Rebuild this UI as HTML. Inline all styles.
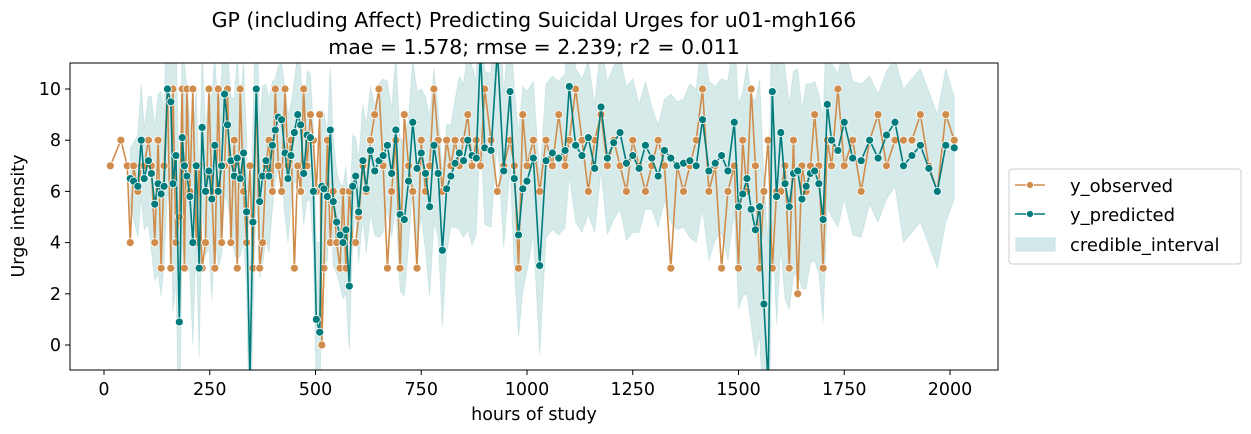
<!DOCTYPE html>
<html><head><meta charset="utf-8"><style>
html,body{margin:0;padding:0;background:#fff;width:1251px;height:434px;overflow:hidden;}
svg{display:block;font-family:"DejaVu Sans","Liberation Sans",sans-serif;}
</style></head><body>
<svg id="chart" width="1251" height="434" viewBox="0 0 1251 434">
<text x="534" y="27" font-size="20.5" text-anchor="middle" fill="#000">GP (including Affect) Predicting Suicidal Urges for u01-mgh166</text>
<text x="534" y="54" font-size="20.5" text-anchor="middle" fill="#000">mae = 1.578; rmse = 2.239; r2 = 0.011</text>
<defs><clipPath id="pc"><rect x="70" y="63" width="928" height="307"/></clipPath></defs>
<g id="plot" clip-path="url(#pc)"></g>
<rect x="70" y="63" width="928" height="307" fill="none" stroke="#000" stroke-width="1"/>
<g id="xaxis"></g>
<g id="yaxis"></g>
<text x="534" y="420" font-size="17.5" text-anchor="middle">hours of study</text>
<text x="24" y="216" font-size="17.5" text-anchor="middle" transform="rotate(-90 24 216)">Urge intensity</text>
<g>
<rect x="1009" y="169" width="232" height="95" rx="3" fill="#fff" stroke="#ccc"/>
<g>
<line x1="1015" y1="185" x2="1045" y2="185" stroke="#d08c4b" stroke-width="1.6"/><circle cx="1030" cy="185" r="3.5" fill="#d08c4b" stroke="#fff" stroke-width="0.8"/>
<text x="1070" y="192" font-size="18">y_observed</text></g>
<g>
<line x1="1015" y1="214" x2="1045" y2="214" stroke="#007b7b" stroke-width="1.6"/><circle cx="1030" cy="214" r="3.5" fill="#007b7b" stroke="#fff" stroke-width="0.8"/>
<text x="1070" y="221" font-size="18">y_predicted</text></g>
<g>
<rect x="1016" y="238" width="39" height="13" fill="#d3e9e9" stroke="#c6e2e2"/>
<text x="1070" y="251" font-size="18">credible_interval</text></g>
</g>
</svg>
<script>
const hours=[15,40,55,62,70,80,88,95,105,112,
120,128,135,142,150,158,163,170,178,185,
190,196,203,210,218,225,232,240,248,255,
262,270,278,285,292,300,308,315,322,330,
337,345,352,360,368,375,383,390,398,405,
412,420,428,435,442,450,458,465,472,480,
488,495,502,510,515,520,528,535,542,550,
558,565,572,580,588,595,602,612,620,630,
640,650,660,670,680,690,700,710,720,730,
740,750,760,770,780,790,800,810,820,830,
840,850,860,870,880,890,900,915,930,945,
960,970,980,990,1000,1015,1030,1045,1060,1075,
1090,1100,1115,1130,1145,1160,1175,1190,1205,1220,
1235,1250,1265,1280,1295,1310,1325,1340,1355,1370,
1385,1400,1415,1430,1445,1460,1475,1490,1500,1510,
1520,1530,1540,1550,1560,1570,1580,1590,1600,1610,
1620,1630,1640,1650,1660,1670,1680,1690,1700,1710,
1720,1735,1750,1770,1790,1810,1830,1850,1870,1890,
1910,1930,1950,1970,1990,2010];
const observed=[7,8,7,4,7,6,7,7,8,7,
4,8,3,7,10,3,10,4,5,10,
3,10,6,10,4,7,3,4,10,6,
3,10,4,7,10,4,8,3,10,6,
4,7,3,10,3,4,7,8,6,10,
7,6,10,7,8,3,7,6,10,7,
9,8,6,9,0,3,8,4,6,4,
3,6,3,6,4,4,5,7,6,8,
9,10,7,3,6,8,3,9,7,6,
3,8,6,7,10,8,6,8,7,8,
7,8,9,7,8,7,10,8,6,7,
8,7,3,9,7,8,6,8,7,9,
7,8,10,8,6,8,9,7,8,7,
6,8,7,6,7,8,7,3,7,6,
7,8,10,6,7,3,6,7,3,8,
6,10,7,3,6,8,3,6,6,7,
3,8,2,7,6,7,9,7,3,8,
7,10,7,8,6,8,9,7,8,8,
8,9,7,6,9,8];
const predicted=[null,null,null,6.5,6.4,6.2,8,6.5,7.2,6.7,
5.5,6.3,5.9,6.2,10,9.5,6.3,7.4,0.9,8.1,
7,6.6,5.8,4,7,3,8.5,6,6.8,5.7,
7.8,6,7,9.8,8.6,7.2,6.6,7.3,6.5,7.5,
5.2,-1.3,4.8,10,5.6,6.6,7.2,6.6,7.8,8.4,
8.9,8.8,7.5,6.5,7.4,8.3,9,8.6,6.7,8.2,
8.1,6,1,0.5,6.2,6.1,5.8,8.4,5.6,4.8,
4.3,4,4.5,2.3,6.2,6.6,5.2,7.2,6.1,7.6,
6.8,7.2,7.4,7.8,6.7,8.4,5.1,4.9,6.4,8.7,
6.9,7.5,6.7,5.4,7.8,6.7,3.7,6.1,6.6,7.1,
7.5,7.2,8,7.4,7.3,11.5,7.7,7.6,11.5,6.8,
9.9,6.5,4.3,6.1,6.4,7.3,3.1,7.2,7.5,7.3,
7.6,10.1,7.8,7.4,8.1,6.9,9.3,7.3,7.9,8.3,
7.1,7.4,6.9,7.8,7.3,6.6,7.6,7.3,7.0,7.1,
7.2,7.0,8.8,6.8,7.1,7.4,6.8,8.7,5.4,5.9,
6.5,5.3,4.5,5.4,1.6,-1.5,9.9,5.8,8.3,6.3,
5.4,6.7,6.8,5.7,6.2,6.7,6.8,6.3,4.9,9.4,
8.0,7.6,8.7,7.3,7.2,8.0,7.3,8.2,8.7,7.0,
7.4,7.8,6.9,6.0,7.8,7.7];
const ciHalf=[0,0,0,1.2,1.5,2,2.2,2,2.5,3,
3,3.5,4,3,4,4.5,5,5,5,4,
4,3.5,3,4,3,3.5,3,2.5,3,4,
3.5,3,3.5,4,3,2.5,3,4,3,3.5,
3,3.5,4,4,3,3.5,3,3,2.5,2,
2,2.2,2.5,2.5,2,2,2.5,2.2,2,2.5,
2.5,2.5,3,3.5,3,3,2.5,2.5,2.5,2,
2,2.2,2.5,2.5,2,1.5,2,2.2,2.5,2.5,
2.5,3,3,2.5,2.5,3,3,3,2.5,2.5,
3,2.5,3,3.5,3,2.5,3,2.5,2,2.5,
3,3,3.5,3.5,3,3,3,3,3.5,3,
3,3.5,4,4,3.5,3,3.5,3,3,3,
3,3.5,3,3,3,2.5,2.5,3,3,3,
3,3,2.5,2.5,2,2,2,2.5,2.5,2.5,
3,3,3.5,3.5,3,3,3.5,3.5,4,4,
4.5,4.5,5,5,5,5.5,5,5,4.5,4.5,
4,4,4,3.5,4,3.5,3.5,3.5,4,4,
3,3,3,3,3,2.5,2.5,2.5,2.5,3,
3,3,3,3,3,2];
const xTicks=[0,250,500,750,1000,1250,1500,1750,2000];
const yTicks=[0,2,4,6,8,10];

const NS="http://www.w3.org/2000/svg";
const X=h=>104+h*(950-104)/2000;
const Y=v=>345-v*25.6;
function mk(tag,attrs,parent){const e=document.createElementNS(NS,tag);for(const k in attrs)e.setAttribute(k,attrs[k]);parent.appendChild(e);return e;}
const plot=document.getElementById('plot');
let up=[],dn=[];
hours.forEach((h,i)=>{if(predicted[i]!==null){up.push(X(h)+','+Y(predicted[i]+ciHalf[i]));dn.unshift(X(h)+','+Y(predicted[i]-ciHalf[i]));}});
const band=mk('polygon',{points:up.concat(dn).join(' '),fill:'#007b7b','fill-opacity':'0.16',stroke:'#007b7b','stroke-opacity':'0.1'},plot);


function series(vals,color,name){
  const pts=[];hours.forEach((h,i)=>{if(vals[i]!==null)pts.push([X(h),Y(vals[i])]);});
  const pl=mk('polyline',{points:pts.map(p=>p.join(',')).join(' '),fill:'none',stroke:color,'stroke-width':'1.6'},plot);
  
  
  pts.forEach(p=>{const c=mk('circle',{cx:p[0],cy:p[1],r:4,fill:color,stroke:'#fff','stroke-width':'0.8'},plot);
    
    });
}
series(observed,'#d08c4b','observed');
series(predicted,'#007b7b','predicted');
const xa=document.getElementById('xaxis');
xTicks.forEach(t=>{mk('line',{x1:X(t),x2:X(t),y1:370,y2:375,stroke:'#000'},xa);
  const tx=mk('text',{x:X(t),y:395,'font-size':'17.5','text-anchor':'middle'},xa);tx.textContent=t;
  
  });
const ya=document.getElementById('yaxis');
yTicks.forEach(t=>{mk('line',{x1:65,x2:70,y1:Y(t),y2:Y(t),stroke:'#000'},ya);
  const tx=mk('text',{x:61,y:Y(t)+6,'font-size':'17.5','text-anchor':'end'},ya);tx.textContent=t;
  
  });
</script>
</body></html>
